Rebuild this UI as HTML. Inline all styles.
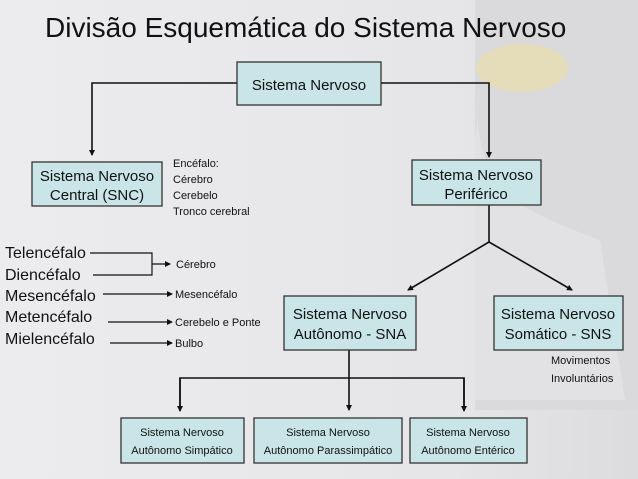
<!DOCTYPE html>
<html><head><meta charset="utf-8"><style>
html,body{margin:0;padding:0;width:638px;height:479px;overflow:hidden;background:#e9e9eb}
svg{display:block}
text{font-family:"Liberation Sans",sans-serif;fill:#111}
</style></head><body>
<svg width="638" height="479" viewBox="0 0 638 479" xmlns="http://www.w3.org/2000/svg">
<defs>
<linearGradient id="bg" x1="0" x2="1" y1="0" y2="0">
<stop offset="0" stop-color="#ececee"/><stop offset="0.7" stop-color="#e6e6e8"/><stop offset="1" stop-color="#dcdcde"/>
</linearGradient>
<marker id="a" markerWidth="6" markerHeight="6" refX="5" refY="3" orient="auto" markerUnits="userSpaceOnUse"><path d="M0,0 L6,3 L0,6z" fill="#111"/></marker>
</defs>
<rect width="638" height="479" fill="url(#bg)"/>
<rect x="475" y="0" width="163" height="410" fill="#dadadc"/>
<ellipse cx="522" cy="68" rx="46" ry="24" fill="#e6dcb4" opacity="0.85"/>
<path d="M480 85 Q470 140 500 190 Q530 215 600 240 L625 400 L470 400 L470 200z" fill="#e6e6e8" opacity="0.7"/>
<text x="45" y="37" font-size="28" fill="#111">Divisão Esquemática do Sistema Nervoso</text>
<g stroke="#111" stroke-width="1.6" fill="none">
<path d="M237 83 H92 V155" marker-end="url(#a)"/>
<path d="M381 83 H489 V157" marker-end="url(#a)"/>
<path d="M489 205 V242 L408 290" marker-end="url(#a)"/>
<path d="M489 242 L572 290" marker-end="url(#a)"/>
<path d="M349 350 V410" marker-end="url(#a)"/>
<path d="M180 410 V378 H464 V410" />
<path d="M180 378 V411" marker-end="url(#a)"/>
<path d="M464 378 V411" marker-end="url(#a)"/>
</g>
<g stroke="#111" stroke-width="1.2" fill="none">
<path d="M90 253 H152 V275 H93"/>
<path d="M152 264 H170" marker-end="url(#a)"/>
<path d="M103 294 H172" marker-end="url(#a)"/>
<path d="M108 322 H172" marker-end="url(#a)"/>
<path d="M110 343 H172" marker-end="url(#a)"/>
</g>
<g fill="#c9e5e7" stroke="#333" stroke-width="1.3">
<rect x="237" y="62" width="144" height="43"/>
<rect x="32" y="162" width="130" height="44"/>
<rect x="412" y="160" width="129" height="45"/>
<rect x="284" y="296" width="132" height="54"/>
<rect x="494" y="296" width="129" height="54"/>
<rect x="121" y="418" width="123" height="45"/>
<rect x="254" y="418" width="148" height="45"/>
<rect x="410" y="418" width="117" height="45"/>
</g>
<g font-size="15" text-anchor="middle">
<text x="309" y="90">Sistema Nervoso</text>
<text x="97" y="181">Sistema Nervoso</text><text x="97" y="200">Central (SNC)</text>
<text x="476" y="180">Sistema Nervoso</text><text x="476" y="199">Periférico</text>
<text x="350" y="319">Sistema Nervoso</text><text x="350" y="339">Autônomo - SNA</text>
<text x="558" y="319">Sistema Nervoso</text><text x="558" y="339">Somático - SNS</text>
</g>
<g font-size="11" text-anchor="middle">
<text x="182" y="436">Sistema Nervoso</text><text x="182" y="454">Autônomo Simpático</text>
<text x="328" y="436">Sistema Nervoso</text><text x="328" y="454">Autônomo Parassimpático</text>
<text x="468" y="436">Sistema Nervoso</text><text x="468" y="454">Autônomo Entérico</text>
</g>
<g font-size="11">
<text x="173" y="167">Encéfalo:</text><text x="173" y="183">Cérebro</text><text x="173" y="199">Cerebelo</text><text x="173" y="215">Tronco cerebral</text>
<text x="176" y="268">Cérebro</text>
<text x="175" y="298">Mesencéfalo</text>
<text x="175" y="326">Cerebelo e Ponte</text>
<text x="175" y="347">Bulbo</text>
<text x="551" y="364">Movimentos</text><text x="551" y="382">Involuntários</text>
</g>
<g font-size="16">
<text x="5" y="258">Telencéfalo</text>
<text x="5" y="280">Diencéfalo</text>
<text x="5" y="301">Mesencéfalo</text>
<text x="5" y="322">Metencéfalo</text>
<text x="5" y="344">Mielencéfalo</text>
</g>
</svg>
</body></html>
